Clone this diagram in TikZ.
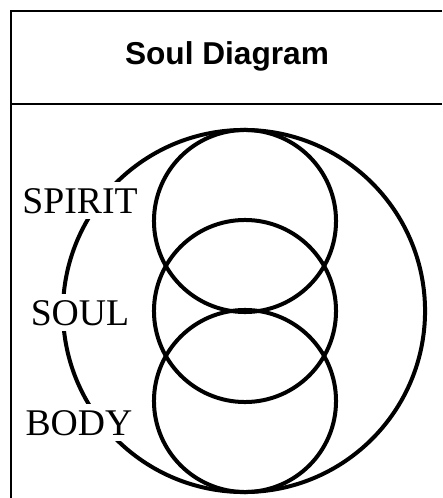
\documentclass[tikz,border=0pt]{standalone}
\usepackage{fontspec}
\setmainfont{Liberation Serif}
\setsansfont{Liberation Sans}
\usetikzlibrary{positioning}

\begin{document}
\begin{tikzpicture}[
    x=0.025cm, y=-0.025cm,
    frame/.style={draw, line width=0.9pt},
    ring/.style={draw, circle, line width=0.1cm, inner sep=0pt},
    tag/.style={fill=white, inner sep=0.14cm, font=\fontsize{26.8}{28}\selectfont},
    title/.style={font=\sffamily\bfseries\fontsize{22.5}{24}\selectfont},
]
    \useasboundingbox (0,0) rectangle (442,498);

    % Frame
    \coordinate (tl) at (11,11);
    \coordinate (tr) at (442,11);
    \coordinate (bl) at (11,498);
    \coordinate (ml) at (11,104);
    \coordinate (mr) at (442,104);
    \draw[frame] (tr) -- (tl) -- (bl);
    \draw[frame] (ml) -- (mr);

    % Title
    \node[title, anchor=base] (head) at (227,65) {Soul Diagram};

    % Circles
    \node[ring, minimum size=9.05cm] (whole) at (244,311) {};
    \node[ring, minimum size=4.55cm] (top) at (245,221) {};
    \node[ring, minimum size=4.55cm] (mid) at (245,311) {};
    \node[ring, minimum size=4.55cm] (low) at (245,401) {};

    % Labels
    \node[tag, anchor=base] (spirit) at (80,213) {SPIRIT};
    \node[tag, anchor=base] (soul) at (80,325) {SOUL};
    \node[tag, anchor=base] (body) at (79,435) {BODY};
\end{tikzpicture}
\end{document}
